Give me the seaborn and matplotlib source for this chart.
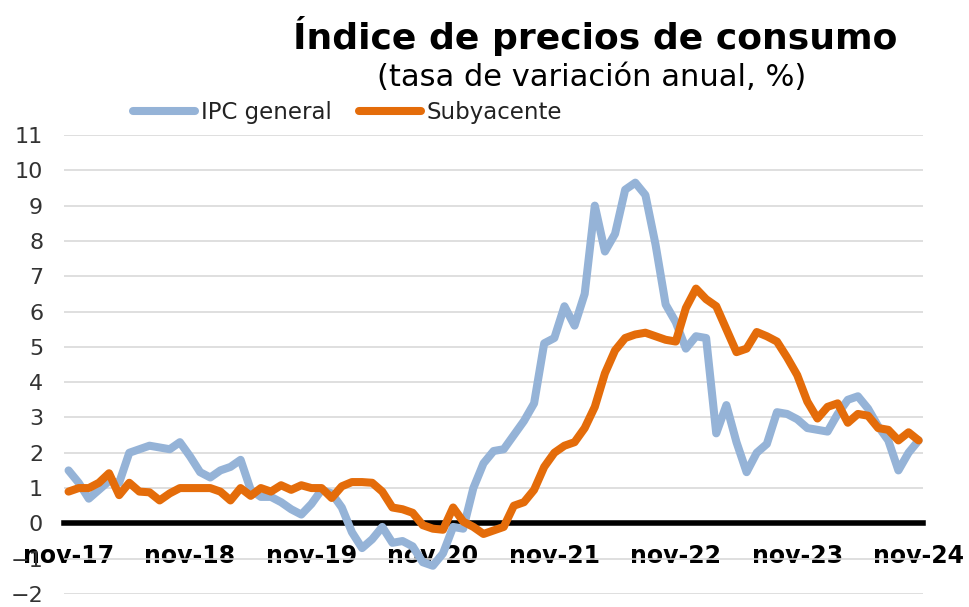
import numpy as np
import pandas as pd
import seaborn as sns
import matplotlib.pyplot as plt

# Tasa de variación anual (%), mensual de nov-17 a nov-24
ipc_general = [
    1.5, 1.15, 0.7, 0.95, 1.2, 1.15, 2.0, 2.1, 2.2, 2.15, 2.1, 2.3,
    1.9, 1.45, 1.3, 1.5, 1.6, 1.8, 0.95, 0.75, 0.75, 0.6, 0.4, 0.25,
    0.55, 0.95, 0.85, 0.45, -0.25, -0.7, -0.45, -0.1, -0.55, -0.5, -0.65, -1.1,
    -1.2, -0.85, -0.1, -0.15, 1.0, 1.7, 2.05, 2.1, 2.5, 2.9, 3.4, 5.1,
    5.25, 6.15, 5.6, 6.5, 9.0, 7.7, 8.2, 9.45, 9.65, 9.3, 7.9, 6.2,
    5.7, 4.95, 5.3, 5.25, 2.55, 3.35, 2.3, 1.45, 2.0, 2.25, 3.15, 3.1,
    2.95, 2.7, 2.65, 2.6, 3.1, 3.5, 3.6, 3.25, 2.75, 2.35, 1.5, 2.0,
    2.35,
]
subyacente = [
    0.9, 1.0, 1.0, 1.15, 1.42, 0.8, 1.15, 0.9, 0.88, 0.65, 0.85, 1.0,
    1.0, 1.0, 1.0, 0.9, 0.65, 1.0, 0.78, 1.0, 0.9, 1.08, 0.95, 1.08,
    1.0, 1.0, 0.72, 1.05, 1.17, 1.17, 1.15, 0.9, 0.45, 0.4, 0.3, -0.05,
    -0.15, -0.18, 0.45, 0.05, -0.1, -0.3, -0.2, -0.1, 0.5, 0.6, 0.95, 1.6,
    2.0, 2.2, 2.3, 2.7, 3.3, 4.25, 4.9, 5.25, 5.35, 5.4, 5.3, 5.2,
    5.15, 6.1, 6.65, 6.35, 6.15, 5.5, 4.85, 4.95, 5.42, 5.3, 5.15, 4.7,
    4.2, 3.45, 2.97, 3.3, 3.4, 2.85, 3.1, 3.05, 2.7, 2.65, 2.35, 2.58,
    2.35,
]
etiquetas_x = ['nov-17', 'nov-18', 'nov-19', 'nov-20', 'nov-21', 'nov-22', 'nov-23', 'nov-24']
pos_etiquetas = [0, 12, 24, 36, 48, 60, 72, 84]
series = ['IPC general', 'Subyacente']
colores = {'IPC general': '#95B3D7', 'Subyacente': '#E46C0A'}

df = pd.DataFrame({
    'mes': np.arange(len(ipc_general)),
    'IPC general': ipc_general,
    'Subyacente': subyacente,
})
largo = df.melt(id_vars='mes', var_name='serie', value_name='tasa')

sns.set_theme(style='white')
plt.rcParams['font.family'] = ['DejaVu Sans']

W, H = 969, 607
fig = plt.figure(figsize=(W / 100, H / 100), dpi=100)
ax = fig.add_axes([64 / W, 1 - 594 / H, (923 - 64) / W, (594 - 135) / H])

sns.lineplot(data=largo, x='mes', y='tasa', hue='serie', hue_order=series,
             palette=colores, linewidth=5.8, ax=ax, zorder=3,
             solid_capstyle='round', solid_joinstyle='round')

ax.set_xlim(-0.45, 84.43)
ax.set_ylim(-2, 11)
ax.set_yticks(range(-2, 12))
ax.yaxis.grid(True, color='#D9D9D9', linewidth=1.2)
ax.xaxis.grid(False)
ax.set_axisbelow(True)

for s in ['top', 'right', 'left']:
    ax.spines[s].set_visible(False)
# eje horizontal en el cero, línea negra gruesa
ax.spines['bottom'].set_position(('data', 0))
ax.spines['bottom'].set_color('black')
ax.spines['bottom'].set_linewidth(4)

ax.set_xticks(pos_etiquetas, etiquetas_x, fontsize=17, fontweight='bold')
ax.tick_params(axis='x', length=0, pad=15, colors='black')
ax.tick_params(axis='y', length=0, pad=15, labelsize=16, colors='#333333')
ax.set_xlabel('')
ax.set_ylabel('')

fig.text(595 / W, 1 - 36 / H, 'Índice de precios de consumo', ha='center', va='center',
         fontsize=26, fontweight='bold', color='black')
fig.text(592 / W, 1 - 77 / H, '(tasa de variación anual, %)', ha='center', va='center',
         fontsize=22, color='black')

sns.move_legend(ax, 'center left', bbox_to_anchor=(133 / W, 1 - 113 / H),
                bbox_transform=fig.transFigure, ncol=2, frameon=False, title=None,
                fontsize=16.5, labelcolor='#222222', handlelength=2.7,
                handletextpad=0.25, columnspacing=1.2,
                borderpad=0, borderaxespad=0)

fig.savefig('out.png', dpi=100)
